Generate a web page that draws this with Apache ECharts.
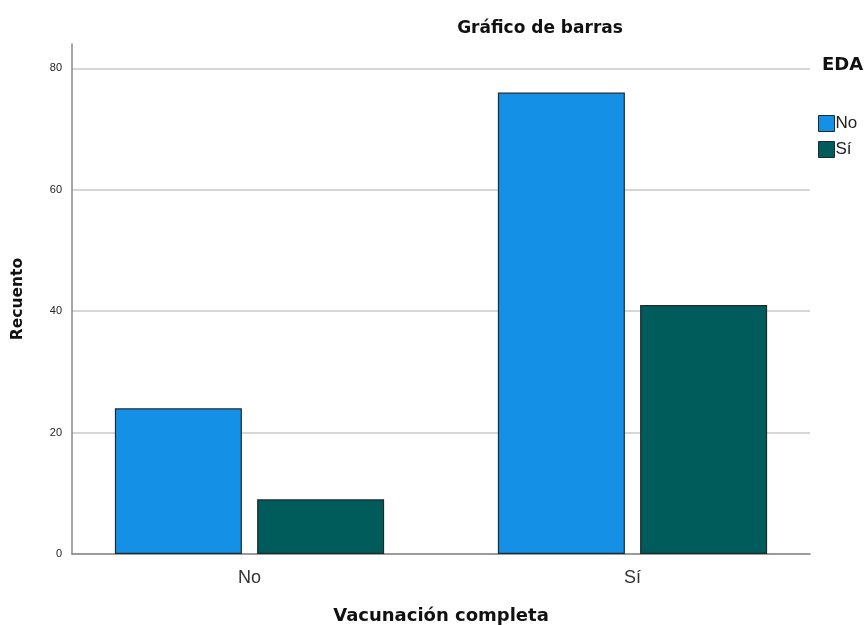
<!DOCTYPE html>
<html>
<head>
<meta charset="utf-8">
<script src="https://cdn.jsdelivr.net/npm/echarts@6/dist/echarts.min.js"></script>
<style>
  html, body { margin: 0; padding: 0; background: #fff; }
</style>
</head>
<body>
<div id="main" style="width: 868px;height:625px;"></div>
<script>
// datos
var categorias = ['No', 'Sí'];
var edaNo = [24, 76];
var edaSi = [9, 41];
var yTicks = [0, 20, 40, 60, 80];

var boldFont = '"DejaVu Sans", Verdana, sans-serif';

var myChart = echarts.init(document.getElementById('main'));
var option = {
  animation: false,
  textStyle: { fontFamily: 'Arial, "Liberation Sans", sans-serif' },
  title: [
    {
      text: 'Gráfico de barras',
      left: 535, top: 15,
      textAlign: 'center',
      textStyle: { fontSize: 17, fontWeight: 'bold', color: '#111', fontFamily: boldFont }
    },
    {
      text: 'EDA',
      left: 817, top: 51,
      textStyle: { fontSize: 18, fontWeight: 'bold', color: '#111', fontFamily: boldFont }
    }
  ],
  legend: {
    orient: 'vertical',
    left: 813, top: 110,
    itemWidth: 16, itemHeight: 16, itemGap: 9,
    icon: 'rect',
    itemStyle: { borderColor: '#1d2a30', borderWidth: 1 },
    textStyle: { fontSize: 17, lineHeight: 16, color: '#222', padding: [0, 0, 0, -4] },
    data: ['No', 'Sí']
  },
  // grid 0: ejes y líneas de referencia; grid 1: barras
  grid: [
    { left: 72, right: 58, top: 44, bottom: 71, outerBoundsMode: 'none' },
    { left: 58, right: 44, top: 44, bottom: 71, outerBoundsMode: 'none' }
  ],
  xAxis: [
    {
      type: 'category',
      gridIndex: 0,
      data: categorias,
      name: 'Vacunación completa',
      nameLocation: 'middle',
      nameGap: 53,
      nameTextStyle: { fontSize: 18, fontWeight: 'bold', color: '#111', fontFamily: boldFont },
      axisLine: { lineStyle: { color: '#888', width: 1.5 } },
      axisTick: { show: false },
      axisLabel: { show: false }
    },
    {
      type: 'category',
      gridIndex: 1,
      data: categorias,
      axisLine: { show: false },
      axisTick: { show: false },
      axisLabel: { fontSize: 18, color: '#333', margin: 15 }
    }
  ],
  yAxis: [
    {
      type: 'value',
      gridIndex: 0,
      min: 0, max: 84, interval: 20,
      name: 'Recuento',
      nameLocation: 'middle',
      nameGap: 46,
      nameTextStyle: { fontSize: 15.5, fontWeight: 'bold', color: '#111', fontFamily: boldFont },
      axisLine: { show: true, lineStyle: { color: '#888', width: 1.5 } },
      axisTick: { show: false },
      axisLabel: {
        fontSize: 11, color: '#222', margin: 10,
        showMaxLabel: false,
        formatter: function (v) { return yTicks.indexOf(v) >= 0 ? String(v) : ''; }
      },
      splitLine: { showMaxLine: false, lineStyle: { color: '#c8c8c8', width: 1.5 } }
    },
    {
      type: 'value',
      gridIndex: 1,
      min: 0, max: 84, interval: 20,
      show: false
    }
  ],
  series: [
    {
      name: 'No', type: 'bar', data: edaNo,
      xAxisIndex: 1, yAxisIndex: 1,
      barWidth: 127, barGap: '12%',
      itemStyle: { color: '#1490e6', borderColor: '#1d2a30', borderWidth: 1.2 }
    },
    {
      name: 'Sí', type: 'bar', data: edaSi,
      xAxisIndex: 1, yAxisIndex: 1,
      barWidth: 127,
      itemStyle: { color: '#005c5a', borderColor: '#1d2a30', borderWidth: 1.2 }
    }
  ]
};
myChart.setOption(option);
</script>
</body>
</html>
